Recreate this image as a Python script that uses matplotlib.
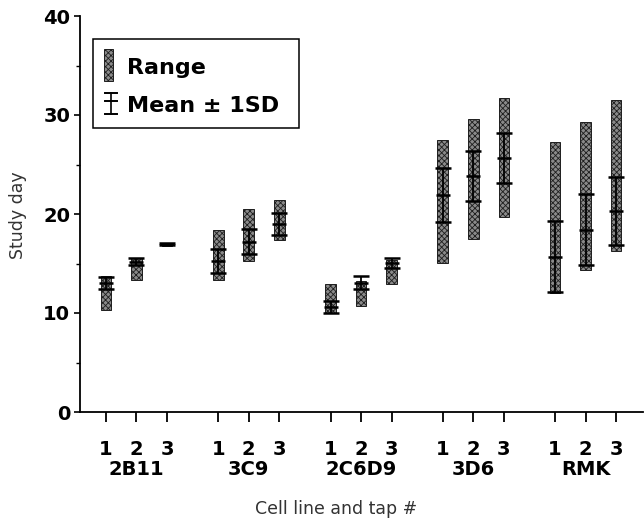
import matplotlib
matplotlib.use("Agg")
import matplotlib.pyplot as plt
from matplotlib.patches import Rectangle
from matplotlib.lines import Line2D
import matplotlib.transforms as mtransforms

# Cell lines and taps
cell_lines = ["2B11", "3C9", "2C6D9", "3D6", "RMK"]
taps = ["1", "2", "3"]

# Study-day range (min / max) per cell line and tap
range_low = [10.3, 13.3, 16.8, 13.3, 15.3, 17.4, 10.0, 10.7, 12.9, 15.1, 17.5, 19.7, 12.0, 14.3, 16.3]
range_high = [13.7, 15.6, 17.1, 18.4, 20.5, 21.4, 12.9, 13.2, 15.4, 27.5, 29.6, 31.7, 27.3, 29.3, 31.5]

# Mean and standard deviation per cell line and tap
mean_day = [13.0, 15.2, 16.95, 15.25, 17.2, 19.0, 10.6, 13.05, 15.05, 21.9, 23.85, 25.65, 15.7, 18.4, 20.3]
sd_day = [0.6, 0.35, 0.1, 1.25, 1.25, 1.1, 0.6, 0.65, 0.55, 2.7, 2.55, 2.55, 3.6, 3.6, 3.45]

plt.rcParams["font.family"] = ["DejaVu Sans"]
plt.rcParams["hatch.linewidth"] = 0.6

BAR_FACE = "#8a8a8a"
BAR_EDGE = "#1e1e1e"
BAR_HATCH = "xxxxxx"

group_step = 3.68
xpos = [g * group_step + t for g in range(len(cell_lines)) for t in range(len(taps))]

fig = plt.figure(figsize=(6.44, 5.23), dpi=100)
ax = fig.add_axes([80 / 644, 111 / 523, 563 / 644, 396 / 523])

# Range bars with a stippled texture
heights = [h - l for l, h in zip(range_low, range_high)]
ax.bar(xpos, heights, bottom=range_low, width=0.35, color=BAR_FACE,
       edgecolor=BAR_EDGE, linewidth=0.7, hatch=BAR_HATCH, zorder=2)

# Mean +/- 1 SD
ax.errorbar(xpos, mean_day, yerr=sd_day, fmt="none", ecolor="black",
            elinewidth=1.3, capsize=5.5, capthick=1.8, zorder=3)
ax.plot(xpos, mean_day, linestyle="none", marker="_", markersize=10,
        markeredgewidth=1.8, color="black", zorder=3)

ax.set_xlim(-0.85, 17.6)
ax.set_ylim(0, 40)

for side in ("top", "right"):
    ax.spines[side].set_visible(False)
ax.spines["left"].set_linewidth(1.3)
ax.spines["bottom"].set_linewidth(1.3)

ax.set_yticks([0, 10, 20, 30, 40])
ax.set_yticks([5, 15, 25, 35], minor=True)
ax.tick_params(axis="y", which="major", direction="out", length=4, width=1.2,
               labelsize=14, pad=3)
ax.tick_params(axis="y", which="minor", direction="out", length=3, width=1.0)
for lab in ax.get_yticklabels():
    lab.set_fontweight("bold")

ax.set_xticks(xpos)
ax.set_xticklabels(taps * len(cell_lines), fontsize=14, fontweight="bold")
ax.tick_params(axis="x", direction="out", length=7, width=1.3, pad=13)

trans = mtransforms.blended_transform_factory(ax.transData, ax.transAxes)
for g, name in enumerate(cell_lines):
    ax.text(g * group_step + 1, -0.146, name, transform=trans, ha="center",
            va="center", fontsize=14, fontweight="bold")

fig.text(336 / 644, 1 - 509 / 523, "Cell line and tap #", ha="center",
         va="center", fontsize=12.5, color="#333333")
fig.text(18 / 644, 1 - 215 / 523, "Study day", ha="center", va="center",
         rotation=90, fontsize=12.5, color="#333333")

# Legend box
def ax_xy(px, py):
    return (px - 80) / 563, (412 - py) / 396

x0, y0 = ax_xy(93, 128)
x1, y1 = ax_xy(299, 39)
ax.add_patch(Rectangle((x0, y0), x1 - x0, y1 - y0, transform=ax.transAxes,
                       facecolor="white", edgecolor="black", linewidth=1.1, zorder=4))

rx, ry = ax_xy(104, 81)
rx2, ry2 = ax_xy(113, 49)
ax.add_patch(Rectangle((rx, ry), rx2 - rx, ry2 - ry, transform=ax.transAxes,
                       facecolor=BAR_FACE, edgecolor=BAR_EDGE, linewidth=0.7,
                       hatch=BAR_HATCH, zorder=5))
tx, ty = ax_xy(127, 68)
ax.text(tx, ty, "Range", transform=ax.transAxes, ha="left", va="center",
        fontsize=16, fontweight="bold", zorder=6)

cx, _ = ax_xy(111, 0)
_, top = ax_xy(0, 93)
_, mid = ax_xy(0, 101)
_, bot = ax_xy(0, 114)
hw = 6 / 563
ax.add_line(Line2D([cx, cx], [bot, top], transform=ax.transAxes, color="black",
                   linewidth=1.2, zorder=6))
for yy in (top, mid, bot):
    ax.add_line(Line2D([cx - hw, cx + hw], [yy, yy], transform=ax.transAxes,
                       color="black", linewidth=1.4, zorder=6))
tx, ty = ax_xy(127, 106)
ax.text(tx, ty, "Mean \u00b1 1SD", transform=ax.transAxes, ha="left",
        va="center", fontsize=16, fontweight="bold", zorder=6)

fig.savefig("out.png", dpi=100)
